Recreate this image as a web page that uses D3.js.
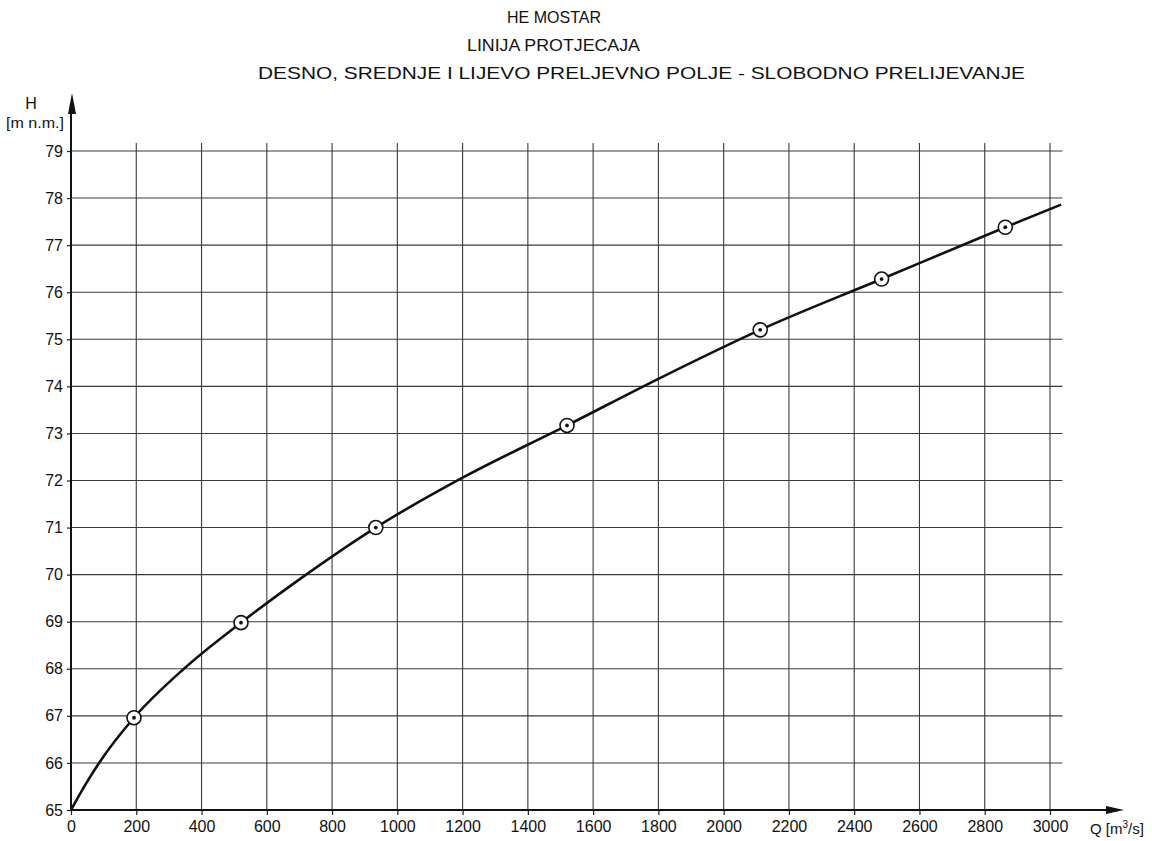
<!DOCTYPE html>
<html>
<head>
<meta charset="utf-8">
<script src="https://cdn.jsdelivr.net/npm/d3@7"></script>
<style>
  body { margin: 0; background: #fff; }
  svg text { font-family: "Liberation Sans", Arial, sans-serif; fill: #111; }
</style>
</head>
<body>
<svg id="chart" width="1152" height="841"></svg>
<script>
// ---- data ----
const titleLines = ["HE MOSTAR", "LINIJA PROTJECAJA", "DESNO, SREDNJE I LIJEVO PRELJEVNO POLJE - SLOBODNO PRELIJEVANJE"];
const qTicks = [0, 200, 400, 600, 800, 1000, 1200, 1400, 1600, 1800, 2000, 2200, 2400, 2600, 2800, 3000];
const hTicks = [65, 66, 67, 68, 69, 70, 71, 72, 73, 74, 75, 76, 77, 78, 79];
const curveQ = [0, 45, 86, 193, 346, 521, 700, 934, 1200, 1520, 1800, 2112, 2484, 2863, 3034];
const curveH = [65, 65.55, 66, 66.96, 68, 68.98, 69.9, 71.0, 72.06, 73.17, 74.16, 75.2, 76.28, 77.38, 77.86];
const pointQ = [193, 521, 934, 1520, 2112, 2484, 2863];
const pointH = [66.96, 68.98, 71.0, 73.17, 75.2, 76.28, 77.38];

const svg = d3.select("#chart");
const x = d3.scaleLinear().domain([0, 3000]).range([71, 1050]);
const y = d3.scaleLinear().domain([65, 79]).range([810, 151]);

// title
svg.append("text").attr("x", 507).attr("y", 23).attr("font-size", 17)
  .attr("textLength", 94).attr("lengthAdjust", "spacingAndGlyphs").text(titleLines[0]);
svg.append("text").attr("x", 467).attr("y", 51).attr("font-size", 17)
  .attr("textLength", 173).attr("lengthAdjust", "spacingAndGlyphs").text(titleLines[1]);
svg.append("text").attr("x", 258).attr("y", 79).attr("font-size", 17)
  .attr("textLength", 767).attr("lengthAdjust", "spacingAndGlyphs").text(titleLines[2]);

// grid
const grid = svg.append("g").attr("stroke", "#3a3a3a").attr("stroke-width", 1.1);
grid.selectAll("line.h").data(hTicks.slice(1)).join("line")
  .attr("x1", x(0)).attr("x2", x(3038))
  .attr("y1", d => y(d)).attr("y2", d => y(d));
grid.selectAll("line.v").data(qTicks.slice(1)).join("line")
  .attr("x1", d => x(d)).attr("x2", d => x(d))
  .attr("y1", y(65)).attr("y2", y(79.17));

// axes (ticks + labels)
const xAxis = d3.axisBottom(x).tickValues(qTicks).tickSize(5).tickPadding(6).tickFormat(d3.format("d"));
const gx = svg.append("g").attr("transform", `translate(0,${y(65)})`).call(xAxis);
gx.select(".domain").remove();
gx.selectAll("text").attr("font-size", 16).attr("font-family", "Liberation Sans, Arial, sans-serif").attr("fill", "#111");
gx.selectAll("line").attr("stroke", "#222").attr("stroke-width", 1.2);

const yAxis = d3.axisLeft(y).tickValues(hTicks).tickSize(4).tickPadding(4).tickFormat(d3.format("d"));
const gy = svg.append("g").attr("transform", `translate(${x(0)},0)`).call(yAxis);
gy.select(".domain").remove();
gy.selectAll("text").attr("font-size", 16).attr("font-family", "Liberation Sans, Arial, sans-serif").attr("fill", "#111");
gy.selectAll("line").attr("stroke", "#222").attr("stroke-width", 1.2);

// axis lines with arrows
const ax = svg.append("g").attr("stroke", "#111").attr("stroke-width", 2);
ax.append("line").attr("x1", x(0)).attr("x2", 1108).attr("y1", y(65)).attr("y2", y(65));
ax.append("line").attr("x1", x(0)).attr("x2", x(0)).attr("y1", y(65)).attr("y2", 110);
svg.append("path").attr("fill", "#111")
  .attr("d", `M1124,${y(65)} L1106,${y(65) - 4} L1106,${y(65) + 4} Z`);
svg.append("path").attr("fill", "#111")
  .attr("d", `M${x(0) + 1},93 L${x(0) - 3},114 L${x(0) + 5},114 Z`);

// axis titles
svg.append("text").attr("x", 31).attr("y", 109).attr("text-anchor", "middle").attr("font-size", 16).text("H");
svg.append("text").attr("x", 35).attr("y", 128).attr("text-anchor", "middle").attr("font-size", 15)
  .attr("textLength", 58).attr("lengthAdjust", "spacingAndGlyphs").text("[m n.m.]");
const qt = svg.append("text").attr("x", 1090).attr("y", 834).attr("font-size", 15);
qt.append("tspan").text("Q [m");
qt.append("tspan").attr("font-size", 10).attr("dy", -6).text("3");
qt.append("tspan").attr("dy", 6).text("/s]");

// curve
const curveData = curveQ.map((q, i) => [q, curveH[i]]);
const line = d3.line().x(d => x(d[0])).y(d => y(d[1])).curve(d3.curveMonotoneX);
svg.append("path").datum(curveData).attr("d", line)
  .attr("fill", "none").attr("stroke", "#111").attr("stroke-width", 2.6);

// measured points
const pts = pointQ.map((q, i) => [q, pointH[i]]);
const pg = svg.append("g");
pg.selectAll("circle.o").data(pts).join("circle")
  .attr("cx", d => x(d[0])).attr("cy", d => y(d[1])).attr("r", 7)
  .attr("fill", "#fff").attr("stroke", "#111").attr("stroke-width", 1.6);
pg.selectAll("circle.i").data(pts).join("circle")
  .attr("cx", d => x(d[0])).attr("cy", d => y(d[1])).attr("r", 1.9)
  .attr("fill", "#111");
</script>
</body>
</html>
